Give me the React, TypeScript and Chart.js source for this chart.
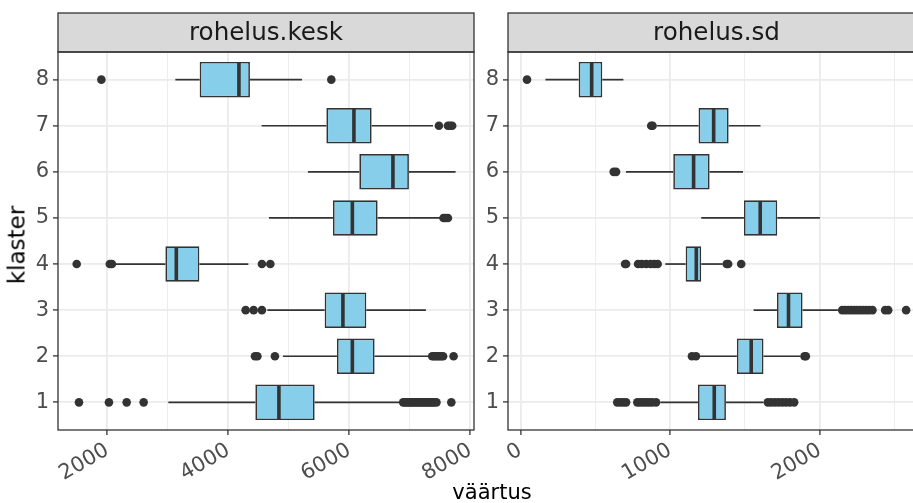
import React, { useEffect, useRef } from "react";
import { Chart, registerables } from "chart.js";

Chart.register(...registerables);

// ---------- data ----------
const clusters = [1, 2, 3, 4, 5, 6, 7, 8];

// facet 1: rohelus.kesk
const keskTicks = [2000, 3000, 4000, 5000, 6000, 7000, 8000];
const keskTickLabels = ["2000", "", "4000", "", "6000", "", "8000"];
const keskWhiskerLow = [3008, 4903, 4645, 2120, 4671, 5316, 4550, 3124];
const keskQ1 = [4446, 5795, 5592, 2959, 5729, 6165, 5620, 3526];
const keskMedian = [4836, 6050, 5894, 3140, 6050, 6721, 6076, 4175];
const keskQ3 = [5427, 6418, 6281, 3521, 6468, 6985, 6369, 4357];
const keskWhiskerHigh = [6859, 7327, 7266, 4331, 7520, 7757, 7382, 5217];
const keskOutliers = [
  [1531, 2026, 2319, 2600, 6890, 6920, 6950, 6980, 7010, 7040, 7070, 7100, 7130, 7160, 7190, 7220, 7250, 7280, 7310, 7340, 7370, 7400, 7440, 7686],
  [4440, 4480, 4770, 7370, 7400, 7430, 7460, 7490, 7520, 7550, 7724],
  [4286, 4418, 4555],
  [1493, 2040, 2075, 4555, 4694],
  [7557, 7590, 7630],
  [],
  [7481, 7630, 7665, 7700],
  [1901, 5702],
];

// facet 2: rohelus.sd
const sdTicks = [0, 500, 1000, 1500, 2000, 2500];
const sdTickLabels = ["0", "", "1000", "", "2000", ""];
const sdWhiskerLow = [935, 1195, 1558, 968, 1208, 705, 913, 167];
const sdQ1 = [1186, 1446, 1714, 1104, 1493, 1021, 1190, 389];
const sdMedian = [1295, 1542, 1791, 1175, 1602, 1157, 1291, 476];
const sdQ3 = [1373, 1624, 1885, 1208, 1716, 1264, 1391, 547];
const sdWhiskerHigh = [1624, 1869, 2121, 1351, 2001, 1487, 1604, 688];
const sdOutliers = [
  [647, 667, 687, 706, 781, 800, 820, 840, 860, 880, 906, 1653, 1675, 1700, 1725, 1750, 1775, 1800, 1829],
  [1146, 1173, 1898, 1907],
  [2150, 2170, 2190, 2210, 2230, 2250, 2270, 2290, 2310, 2330, 2352, 2437, 2457, 2577],
  [699, 706, 786, 810, 840, 870, 895, 917, 1378, 1388, 1475],
  [],
  [623, 639],
  [874, 883],
  [44],
];

// ---------- styling ----------
const FONT = "'DejaVu Sans', sans-serif";
const BOX_FILL = "#87CEEB";
const DARK = "#333333";
const GRID = "#EBEBEB";
const TICK_TEXT = "#4D4D4D";

const facetPlugin = {
  id: "facet",
  afterDraw(chart: any, _args: any, opts: any) {
    const { ctx, chartArea } = chart;
    const { left, top, right, bottom } = chartArea;
    const stripTop = opts.stripTop;
    ctx.save();
    ctx.fillStyle = "#D9D9D9";
    ctx.fillRect(left, stripTop, right - left, top - stripTop);
    ctx.strokeStyle = DARK;
    ctx.lineWidth = 1.3;
    ctx.strokeRect(left, stripTop, right - left, top - stripTop);
    ctx.fillStyle = "#1A1A1A";
    ctx.font = `24.6px ${FONT}`;
    ctx.textAlign = "center";
    ctx.textBaseline = "middle";
    ctx.fillText(opts.title, (left + right) / 2, (stripTop + top) / 2 + 1);
    ctx.strokeRect(left, top, right - left, bottom - top);
    ctx.restore();
  },
};

type Facet = {
  title: string;
  ticks: number[];
  tickLabels: string[];
  min: number;
  max: number;
  wlo: number[];
  q1: number[];
  med: number[];
  q3: number[];
  whi: number[];
  outliers: number[][];
  yWidth: number;
  padRight: number;
};

function buildConfig(f: Facet): any {
  const datasets: any[] = [];
  datasets.push({
    type: "bar",
    data: clusters.map((c, i) => ({ y: c, x: [f.q1[i], f.q3[i]] })),
    backgroundColor: BOX_FILL,
    borderColor: DARK,
    borderWidth: 1.7,
    borderSkipped: false,
    categoryPercentage: 0.77,
    barPercentage: 1,
    order: 2,
  });
  clusters.forEach((c, i) => {
    const line = {
      type: "line",
      borderColor: DARK,
      borderWidth: 1.7,
      pointRadius: 0,
      fill: false,
      order: 3,
    };
    datasets.push({ ...line, data: [{ x: f.wlo[i], y: c }, { x: f.q1[i], y: c }] });
    datasets.push({ ...line, data: [{ x: f.q3[i], y: c }, { x: f.whi[i], y: c }] });
    datasets.push({
      ...line,
      borderWidth: 3.6,
      order: 0,
      data: [{ x: f.med[i], y: c - 0.37 }, { x: f.med[i], y: c + 0.37 }],
    });
  });
  datasets.push({
    type: "scatter",
    data: clusters.flatMap((c, i) => f.outliers[i].map((v) => ({ x: v, y: c }))),
    backgroundColor: DARK,
    borderWidth: 0,
    pointRadius: 4.3,
    order: 1,
  });

  const isMajor = (i: number) => f.tickLabels[i] !== "";

  return {
    type: "bar",
    data: { datasets },
    plugins: [facetPlugin],
    options: {
      indexAxis: "y",
      animation: false,
      responsive: false,
      devicePixelRatio: 1,
      events: [],
      layout: { padding: { top: 52, right: f.padRight, left: 0, bottom: 0 } },
      plugins: {
        legend: { display: false },
        tooltip: { enabled: false },
        facet: { title: f.title, stripTop: 13 },
      },
      scales: {
        x: {
          type: "linear",
          min: f.min,
          max: f.max,
          offset: false,
          beginAtZero: false,
          border: { display: false },
          grid: {
            offset: false,
            color: GRID,
            lineWidth: (ctx: any) => (isMajor(ctx.index) ? 1.8 : 0.9),
            tickColor: (ctx: any) => (isMajor(ctx.index) ? DARK : "rgba(0,0,0,0)"),
            tickLength: 5,
            tickWidth: 1.3,
          },
          ticks: {
            autoSkip: false,
            minRotation: 30,
            maxRotation: 30,
            padding: 3,
            color: TICK_TEXT,
            font: { family: FONT, size: 21 },
            callback: (_v: any, i: number) => f.tickLabels[i],
          },
          afterBuildTicks: (scale: any) => {
            scale.ticks = f.ticks.map((v) => ({ value: v }));
          },
          afterFit: (scale: any) => {
            scale.height = 73;
            scale.paddingLeft = 0;
            scale.paddingRight = 0;
          },
        },
        y: {
          type: "linear",
          min: 0.4,
          max: 8.6,
          offset: false,
          beginAtZero: false,
          border: { display: false },
          grid: {
            offset: false,
            color: GRID,
            lineWidth: 1.8,
            tickColor: DARK,
            tickLength: 5,
            tickWidth: 1.3,
          },
          ticks: {
            padding: 4,
            color: TICK_TEXT,
            font: { family: FONT, size: 21 },
            callback: (_v: any, i: number) => String(clusters[i]),
          },
          afterBuildTicks: (scale: any) => {
            scale.ticks = clusters.map((v) => ({ value: v }));
          },
          afterFit: (scale: any) => {
            scale.width = f.yWidth;
            scale.paddingTop = 0;
            scale.paddingBottom = 0;
          },
        },
      },
    },
  };
}

const kesk: Facet = {
  title: "rohelus.kesk",
  ticks: keskTicks,
  tickLabels: keskTickLabels,
  min: 1184,
  max: 8061,
  wlo: keskWhiskerLow,
  q1: keskQ1,
  med: keskMedian,
  q3: keskQ3,
  whi: keskWhiskerHigh,
  outliers: keskOutliers,
  yWidth: 58,
  padRight: 6,
};

const sd: Facet = {
  title: "rohelus.sd",
  ticks: sdTicks,
  tickLabels: sdTickLabels,
  min: -83,
  max: 2703,
  wlo: sdWhiskerLow,
  q1: sdQ1,
  med: sdMedian,
  q3: sdQ3,
  whi: sdWhiskerHigh,
  outliers: sdOutliers,
  yWidth: 28,
  padRight: 15,
};

export default function App() {
  const leftRef = useRef<HTMLCanvasElement>(null);
  const rightRef = useRef<HTMLCanvasElement>(null);

  useEffect(() => {
    const c1 = new Chart(leftRef.current as HTMLCanvasElement, buildConfig(kesk));
    const c2 = new Chart(rightRef.current as HTMLCanvasElement, buildConfig(sd));
    return () => {
      c1.destroy();
      c2.destroy();
    };
  }, []);

  return (
    <div
      style={{
        position: "fixed",
        left: 0,
        top: 0,
        width: 913,
        height: 503,
        overflow: "hidden",
        background: "#ffffff",
      }}
    >
      <canvas
        ref={leftRef}
        width={480}
        height={503}
        style={{ position: "absolute", left: 0, top: 0, width: 480, height: 503 }}
      />
      <canvas
        ref={rightRef}
        width={460}
        height={503}
        style={{ position: "absolute", left: 480, top: 0, width: 460, height: 503 }}
      />
      <div
        style={{
          position: "absolute",
          left: 17,
          top: 245,
          transform: "translate(-50%, -50%) rotate(-90deg)",
          whiteSpace: "nowrap",
          font: `23px ${FONT}`,
          lineHeight: 1,
          color: "#000",
        }}
      >
        klaster
      </div>
      <div
        style={{
          position: "absolute",
          left: 392,
          top: 482,
          width: 200,
          textAlign: "center",
          whiteSpace: "nowrap",
          font: `21px ${FONT}`,
          lineHeight: 1,
          color: "#000",
        }}
      >
        väärtus
      </div>
    </div>
  );
}
